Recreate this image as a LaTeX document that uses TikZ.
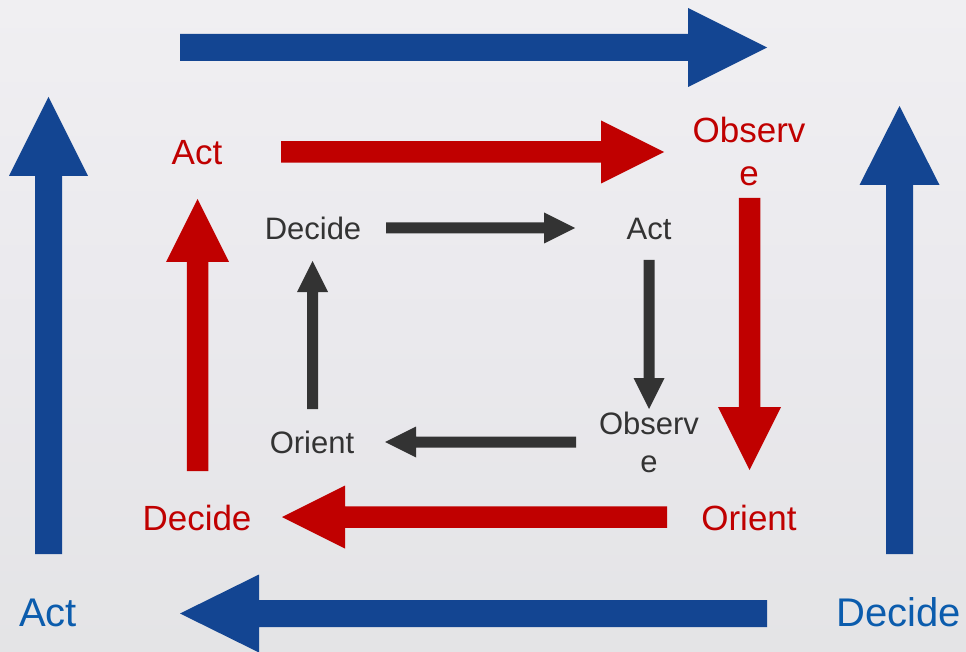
\documentclass[tikz,border=0pt]{standalone}
\usepackage{fontspec}
\setmainfont{Liberation Sans}
\usetikzlibrary{calc}

\definecolor{loopblue}{HTML}{134592}
\definecolor{labelblue}{HTML}{0B5CAD}
\definecolor{loopred}{HTML}{C00000}
\definecolor{loopdark}{HTML}{333333}
\definecolor{skytop}{HTML}{F0EFF2}
\definecolor{skymid}{HTML}{EAE9ED}
\definecolor{skybot}{HTML}{E4E4E6}

% Block arrow from #2 to #3: #4 half shaft width, #5 half head width, #6 head length
\newcommand\blockarrow[6]{%
  \fill[#1] let \p1=($(#3)-(#2)$), \n1={atan2(\y1,\x1)}, \n2={veclen(\x1,\y1)} in
    [shift={(#2)}, rotate=\n1]
    (0pt,-#4) -- ({\n2*1pt-#6},-#4) -- ({\n2*1pt-#6},-#5) -- ({\n2*1pt},0pt)
    -- ({\n2*1pt-#6},#5) -- ({\n2*1pt-#6},#4) -- (0pt,#4) -- cycle;}

\tikzset{
  outerlabel/.style={text=labelblue, font=\fontsize{40}{48}\selectfont, anchor=base, inner sep=0pt},
  midlabel/.style={text=loopred, font=\fontsize{35}{43}\selectfont, anchor=base, inner sep=0pt, align=center},
  innerlabel/.style={text=loopdark, font=\fontsize{31}{38}\selectfont, anchor=base, inner sep=0pt, align=center},
}

\begin{document}
\begin{tikzpicture}[x=1pt, y=-1pt]
  \useasboundingbox (0,0) rectangle (966,652);
  % hazy sky backdrop
  \shade[top color=skytop, bottom color=skybot, middle color=skymid] (0,0) rectangle (966,652);

  % ---- outer loop (blue) ----
  \coordinate (bTopS) at (180,47.5);   \coordinate (bTopE) at (767,47.5);
  \coordinate (bRgtS) at (899.5,554);  \coordinate (bRgtE) at (899.5,106);
  \coordinate (bBotS) at (767,613.5);  \coordinate (bBotE) at (180,613.5);
  \coordinate (bLftS) at (48.5,554);   \coordinate (bLftE) at (48.5,97);
  \blockarrow{loopblue}{bTopS}{bTopE}{13.5pt}{39.5pt}{79pt}
  \blockarrow{loopblue}{bRgtS}{bRgtE}{13.5pt}{40pt}{79pt}
  \blockarrow{loopblue}{bBotS}{bBotE}{13.5pt}{39pt}{79pt}
  \blockarrow{loopblue}{bLftS}{bLftE}{13.5pt}{39.5pt}{79pt}
  \node[outerlabel] (bAct) at (48,626) {Act};
  \node[outerlabel] (bDecide) at (899,626) {Decide};

  % ---- middle loop (red) ----
  \coordinate (rTopS) at (281,152);    \coordinate (rTopE) at (664,152);
  \coordinate (rRgtS) at (749.5,198);  \coordinate (rRgtE) at (749.5,470);
  \coordinate (rBotS) at (667,517);    \coordinate (rBotE) at (282,517);
  \coordinate (rLftS) at (197.5,471);  \coordinate (rLftE) at (197.5,199);
  \blockarrow{loopred}{rTopS}{rTopE}{10.75pt}{31.5pt}{63pt}
  \blockarrow{loopred}{rRgtS}{rRgtE}{10.75pt}{31.5pt}{63pt}
  \blockarrow{loopred}{rBotS}{rBotE}{10.75pt}{31.5pt}{63pt}
  \blockarrow{loopred}{rLftS}{rLftE}{10.75pt}{31.5pt}{63pt}
  \node[midlabel] (rAct) at (197,165) {Act};
  % two-line label: the base anchor sits on the last line
  \node[midlabel] (rObserve) at (749,186) {Observ\\e};
  \node[midlabel] (rOrient) at (749,530) {Orient};
  \node[midlabel] (rDecide) at (197,530) {Decide};

  % ---- inner loop (dark grey) ----
  \coordinate (kTopS) at (386,228);    \coordinate (kTopE) at (575,228);
  \coordinate (kRgtS) at (649,260);    \coordinate (kRgtE) at (649,409);
  \coordinate (kBotS) at (576,442);    \coordinate (kBotE) at (385,442);
  \coordinate (kLftS) at (312.5,409);  \coordinate (kLftE) at (312.5,261);
  \blockarrow{loopdark}{kTopS}{kTopE}{5.5pt}{15.5pt}{31pt}
  \blockarrow{loopdark}{kRgtS}{kRgtE}{5.5pt}{15.5pt}{31pt}
  \blockarrow{loopdark}{kBotS}{kBotE}{5.5pt}{15.5pt}{31pt}
  \blockarrow{loopdark}{kLftS}{kLftE}{5.5pt}{15.5pt}{31pt}
  \node[innerlabel] (kDecide) at (313,240) {Decide};
  \node[innerlabel] (kAct) at (649,240) {Act};
  \node[innerlabel] (kObserve) at (649,472) {Observ\\e};
  \node[innerlabel] (kOrient) at (312,453) {Orient};
\end{tikzpicture}
\end{document}
